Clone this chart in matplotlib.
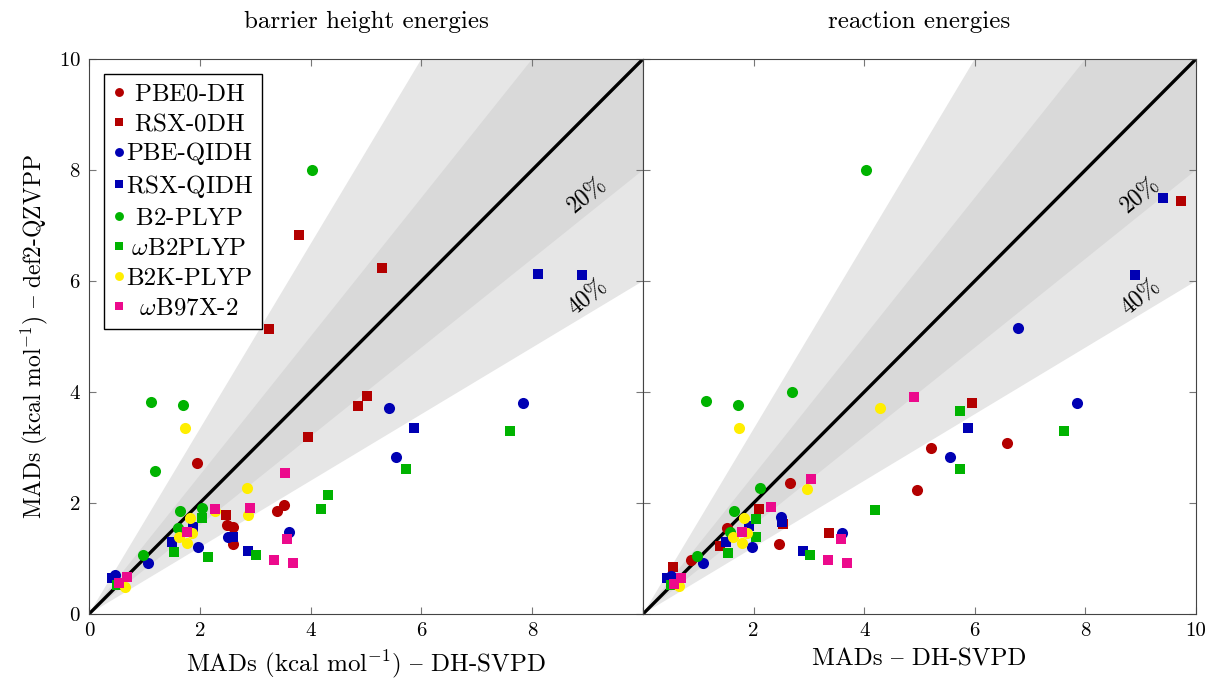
import matplotlib.pyplot as plt
import numpy as np

plt.rcParams['font.family'] = ['cmr10', 'DejaVu Serif']
plt.rcParams['mathtext.fontset'] = 'cm'
plt.rcParams['axes.formatter.use_mathtext'] = True
plt.rcParams['font.size'] = 15

names = ['PBE0-DH', 'RSX-0DH', 'PBE-QIDH', 'RSX-QIDH', 'B2-PLYP',
         r'$\omega$B2PLYP', 'B2K-PLYP', r'$\omega$B97X-2']
colors = ['#b30000', '#b30000', '#0000b3', '#0000b3', '#00b300', '#00b300', '#ffee00', '#ec0a8c']
markers = ['o', 's', 'o', 's', 'o', 's', 'o', 's']

# barrier height energies (x: DH-SVPD, y: def2-QZVPP)
bh_pbe0dh_x = [1.95, 2.49, 2.6, 2.6, 3.39, 3.52]
bh_pbe0dh_y = [2.72, 1.6, 1.57, 1.26, 1.86, 1.96]
bh_rsx0dh_x = [3.79, 5.29, 3.25, 5.02, 4.86, 3.95, 2.48]
bh_rsx0dh_y = [6.83, 6.23, 5.14, 3.93, 3.75, 3.19, 1.78]
bh_pbeqidh_x = [7.84, 5.41, 5.55, 3.61, 2.51, 1.97, 1.07, 0.47]
bh_pbeqidh_y = [3.8, 3.71, 2.83, 1.48, 1.39, 1.21, 0.92, 0.70]
bh_rsxqidh_x = [8.1, 8.9, 5.87, 2.87, 2.6, 1.5, 1.88, 0.41]
bh_rsxqidh_y = [6.13, 6.11, 3.35, 1.13, 1.39, 1.3, 1.57, 0.65]
bh_b2plyp_x = [4.03, 1.12, 1.7, 1.2, 1.64, 2.04, 1.6, 0.97]
bh_b2plyp_y = [8.0, 3.82, 3.76, 2.58, 1.86, 1.91, 1.55, 1.06]
bh_wb2plyp_x = [7.6, 5.72, 4.31, 4.19, 2.04, 2.15, 3.01, 1.53, 0.5]
bh_wb2plyp_y = [3.3, 2.61, 2.14, 1.89, 1.73, 1.03, 1.06, 1.12, 0.52]
bh_b2kplyp_x = [1.73, 2.85, 2.87, 1.82, 1.77, 1.62, 1.86, 0.65, 2.27]
bh_b2kplyp_y = [3.35, 2.27, 1.78, 1.73, 1.28, 1.39, 1.46, 0.49, 1.85]
bh_wb97x2_x = [3.54, 2.27, 2.9, 1.77, 3.57, 3.34, 3.68, 0.68, 0.54]
bh_wb97x2_y = [2.54, 1.9, 1.91, 1.48, 1.35, 0.97, 0.92, 0.67, 0.56]

# reaction energies
re_pbe0dh_x = [0.87, 1.52, 2.46, 2.66, 4.95, 5.21, 6.58]
re_pbe0dh_y = [0.97, 1.55, 1.26, 2.36, 2.23, 2.99, 3.08]
re_rsx0dh_x = [9.72, 5.95, 3.36, 2.53, 2.1, 1.39, 0.54]
re_rsx0dh_y = [7.45, 3.80, 1.46, 1.62, 1.89, 1.23, 0.85]
re_pbeqidh_x = [7.85, 6.78, 5.55, 3.6, 2.5, 1.97, 1.08, 0.5]
re_pbeqidh_y = [3.8, 5.15, 2.83, 1.46, 1.75, 1.21, 0.92, 0.68]
re_rsxqidh_x = [9.4, 8.9, 5.88, 2.89, 2.51, 1.5, 1.92, 0.43]
re_rsxqidh_y = [7.5, 6.1, 3.35, 1.13, 1.66, 1.3, 1.59, 0.65]
re_b2plyp_x = [4.03, 1.14, 1.72, 2.69, 2.12, 1.65, 1.57, 0.98]
re_b2plyp_y = [8.0, 3.84, 3.77, 4.0, 2.27, 1.86, 1.48, 1.05]
re_wb2plyp_x = [7.61, 5.73, 5.73, 4.2, 3.02, 2.04, 2.04, 1.54, 0.5]
re_wb2plyp_y = [3.3, 3.66, 2.61, 1.87, 1.06, 1.71, 1.39, 1.1, 0.52]
re_b2kplyp_x = [1.74, 4.28, 2.97, 1.83, 1.63, 1.79, 1.88, 0.65]
re_b2kplyp_y = [3.35, 3.71, 2.25, 1.73, 1.39, 1.28, 1.46, 0.5]
re_wb97x2_x = [4.9, 3.04, 2.31, 1.79, 3.58, 3.35, 3.68, 0.69, 0.56]
re_wb97x2_y = [3.91, 2.43, 1.93, 1.48, 1.35, 0.97, 0.92, 0.65, 0.54]

bh_data = [(bh_pbe0dh_x, bh_pbe0dh_y), (bh_rsx0dh_x, bh_rsx0dh_y),
           (bh_pbeqidh_x, bh_pbeqidh_y), (bh_rsxqidh_x, bh_rsxqidh_y),
           (bh_b2plyp_x, bh_b2plyp_y), (bh_wb2plyp_x, bh_wb2plyp_y),
           (bh_b2kplyp_x, bh_b2kplyp_y), (bh_wb97x2_x, bh_wb97x2_y)]
re_data = [(re_pbe0dh_x, re_pbe0dh_y), (re_rsx0dh_x, re_rsx0dh_y),
           (re_pbeqidh_x, re_pbeqidh_y), (re_rsxqidh_x, re_rsxqidh_y),
           (re_b2plyp_x, re_b2plyp_y), (re_wb2plyp_x, re_wb2plyp_y),
           (re_b2kplyp_x, re_b2kplyp_y), (re_wb97x2_x, re_wb97x2_y)]

fig = plt.figure(figsize=(12.12, 6.83), dpi=100)
ax1 = fig.add_axes([89/1212, 69/683, 554/1212, 555/683])
ax2 = fig.add_axes([643/1212, 69/683, 553/1212, 555/683])


def draw_panel(ax, data, title):
    xx = np.linspace(0, 10, 200)
    ax.fill_between(xx, 0.6*xx, xx/0.6, color='#e6e6e6', lw=0, zorder=0)
    ax.fill_between(xx, 0.8*xx, xx/0.8, color='#d9d9d9', lw=0, zorder=0)
    ax.plot([0, 10], [0, 10], color='black', lw=2.4, zorder=1)
    for i, (x, y) in enumerate(data):
        ms = 8 if markers[i] == 'o' else 7.5
        ax.plot(x, y, ls='none', marker=markers[i], color=colors[i], ms=ms,
                mew=0, label=names[i], zorder=2)
    ax.text(9.0, 7.55, '20%', rotation=40, ha='center', va='center', fontsize=17)
    ax.text(9.0, 5.71, '40%', rotation=40, ha='center', va='center', fontsize=17)
    ax.set_xlim(0, 10)
    ax.set_ylim(0, 10)
    ax.set_xticks(range(0, 11, 2))
    ax.set_yticks(range(0, 11, 2))
    ax.tick_params(direction='in', top=True, right=True, length=5, color='#777777', pad=6)
    for s in ax.spines.values():
        s.set_color('#444444')
    ax.set_title(title, pad=22)


draw_panel(ax1, bh_data, 'barrier height energies')
draw_panel(ax2, re_data, 'reaction energies')

ax1.set_xticklabels(['0', '2', '4', '6', '8', ''])
ax2.set_xticklabels(['', '2', '4', '6', '8', '10'])
ax2.set_yticklabels([])
# '{' is the en dash in cmr10
ax1.set_xlabel(r'MADs (kcal mol$^{-1}$) { DH-SVPD', labelpad=6, fontsize=18)
ax2.set_xlabel('MADs { DH-SVPD', labelpad=6, fontsize=18)
ax1.set_ylabel(r'MADs (kcal mol$^{-1}$) { def2-QZVPP', labelpad=6, fontsize=17)

# legend with labels centred in their column (pad with math spaces)
leg_fs = 18
fig.canvas.draw()
rend = fig.canvas.get_renderer()
widths = []
for n in names:
    t = fig.text(0, 0, n, fontsize=leg_fs)
    widths.append(t.get_window_extent(rend).width)
    t.remove()
t = fig.text(0, 0, r'$\hspace{10}$.', fontsize=leg_fs)
t2 = fig.text(0, 0, '.', fontsize=leg_fs)
em = (t.get_window_extent(rend).width - t2.get_window_extent(rend).width) / 10
t.remove()
t2.remove()
wmax = max(widths)
labels = []
for n, w in zip(names, widths):
    pad = (wmax - w) / 2 / em
    labels.append(r'$\hspace{%.3f}$' % pad + n + r'$\hspace{%.3f}$' % pad if pad > 0.01 else n)

handles = ax1.get_legend_handles_labels()[0]
leg = ax1.legend(handles, labels, loc='upper left', borderaxespad=0.6, fancybox=False,
                 framealpha=1, edgecolor='black', handlelength=0.5, handletextpad=0.05,
                 fontsize=leg_fs, markerscale=0.8, labelspacing=0.3, borderpad=0.35)
leg.get_frame().set_linewidth(1.0)

plt.savefig('out.png', dpi=100)
